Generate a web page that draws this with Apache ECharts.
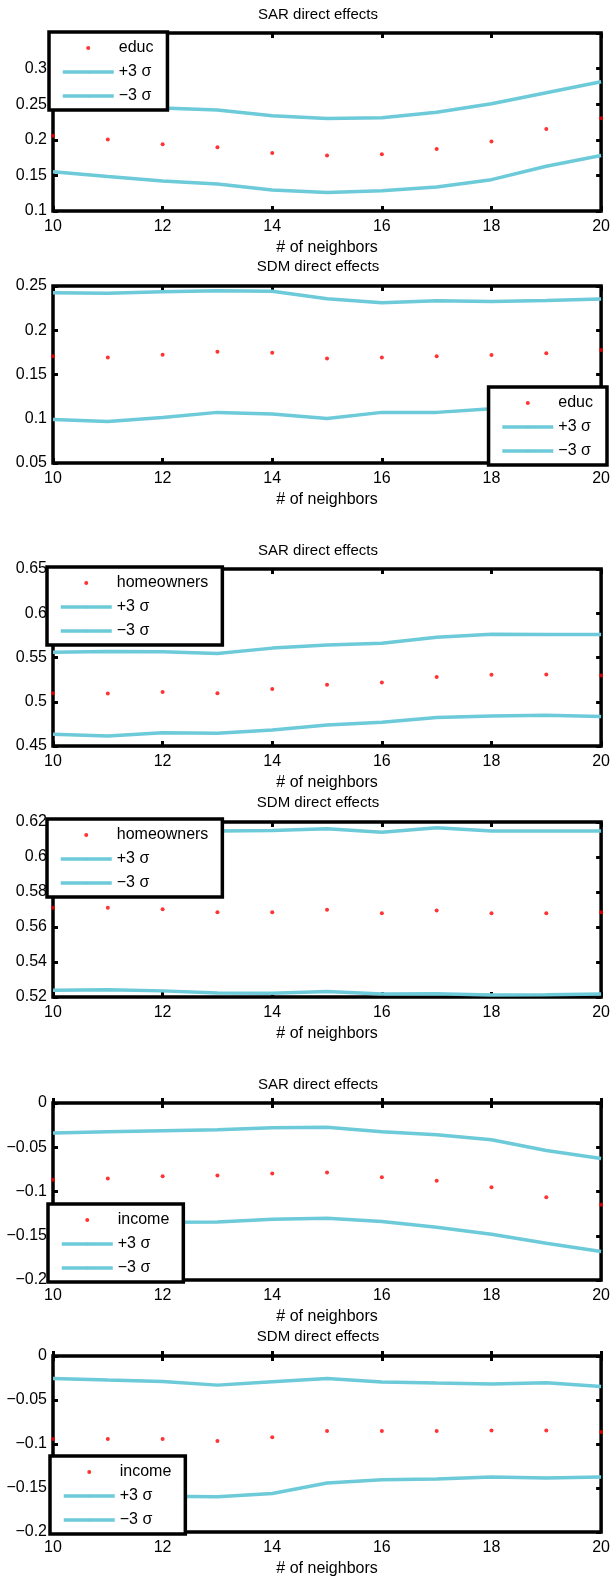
<!DOCTYPE html>
<html>
<head>
<meta charset="utf-8">
<script src="https://cdn.jsdelivr.net/npm/echarts@6/dist/echarts.min.js"></script>
<style>
  html, body { margin: 0; padding: 0; background: #fff; }
  #main { width: 613px; height: 1579px; }
</style>
</head>
<body>
<div id="main"></div>
<script>
var neighbors = [10, 11, 12, 13, 14, 15, 16, 17, 18, 19, 20];

// educ
var educSarUp = [0.256, 0.2527, 0.2445, 0.242, 0.2338, 0.230, 0.2309, 0.2386, 0.2507, 0.266, 0.2816];
var educSarMid = [0.2058, 0.2005, 0.1937, 0.1894, 0.1816, 0.178, 0.1797, 0.187, 0.1976, 0.215, 0.2304];
var educSarLo = [0.155, 0.1483, 0.142, 0.138, 0.1295, 0.126, 0.1285, 0.1338, 0.144, 0.1628, 0.178];

var educSdmUp = [0.2424, 0.2417, 0.2436, 0.2447, 0.244, 0.2356, 0.2311, 0.2333, 0.2326, 0.2337, 0.2352];
var educSdmMid = [0.1705, 0.1693, 0.1724, 0.1758, 0.1746, 0.1682, 0.1693, 0.1705, 0.172, 0.1739, 0.1777];
var educSdmLo = [0.0992, 0.097, 0.1015, 0.1072, 0.1053, 0.1004, 0.1072, 0.1072, 0.1114, 0.1141, 0.1202];

// homeowners
var homeSarUp = [0.556, 0.5568, 0.5564, 0.5545, 0.5606, 0.564, 0.5662, 0.573, 0.5764, 0.576, 0.576];
var homeSarMid = [0.5096, 0.5093, 0.5111, 0.5096, 0.5145, 0.5191, 0.5217, 0.5281, 0.5304, 0.5308, 0.5296];
var homeSarLo = [0.4632, 0.4613, 0.4651, 0.4643, 0.4681, 0.4738, 0.4768, 0.4821, 0.484, 0.4847, 0.4832];

var homeSdmUp = [0.6182, 0.6178, 0.6169, 0.6148, 0.6152, 0.6161, 0.6142, 0.6167, 0.6148, 0.6148, 0.6148];
var homeSdmMid = [0.571, 0.571, 0.5702, 0.5685, 0.5685, 0.5698, 0.5679, 0.5694, 0.5679, 0.5679, 0.5685];
var homeSdmLo = [0.5238, 0.5242, 0.5235, 0.5223, 0.5221, 0.5231, 0.5217, 0.5219, 0.5212, 0.5213, 0.5217];

// income
var incSarUp = [-0.034, -0.0325, -0.0313, -0.0302, -0.0279, -0.0275, -0.0325, -0.0358, -0.0415, -0.0536, -0.0626];
var incSarMid = [-0.0868, -0.0853, -0.0827, -0.0819, -0.0796, -0.0785, -0.0838, -0.0879, -0.0951, -0.1064, -0.1151];
var incSarLo = [-0.1396, -0.1381, -0.1347, -0.1344, -0.1313, -0.1302, -0.134, -0.1404, -0.1483, -0.1585, -0.1679];

var incSdmUp = [-0.0255, -0.0274, -0.0289, -0.0331, -0.0293, -0.0255, -0.0296, -0.0308, -0.0319, -0.0304, -0.0346];
var incSdmMid = [-0.0942, -0.0942, -0.0942, -0.0965, -0.0923, -0.0851, -0.0851, -0.0851, -0.0847, -0.0847, -0.0863];
var incSdmLo = [-0.1629, -0.161, -0.1595, -0.16, -0.1562, -0.1444, -0.1406, -0.1398, -0.1376, -0.1387, -0.1376];

var titles = ['SAR direct effects', 'SDM direct effects', 'SAR direct effects',
  'SDM direct effects', 'SAR direct effects', 'SDM direct effects'];
var varNames = ['educ', 'educ', 'homeowners', 'homeowners', 'income', 'income'];
var upName = '+3 \u03c3';
var loName = '\u22123 \u03c3';

var panels = [
  { up: educSarUp, mid: educSarMid, lo: educSarLo, min: 0.1, max: 0.35, step: 0.05, hideMax: true,
    top: 33, height: 178, titleY: 15, legend: { left: 49, top: 32 } },
  { up: educSdmUp, mid: educSdmMid, lo: educSdmLo, min: 0.05, max: 0.25, step: 0.05,
    top: 286, height: 177, titleY: 267, legend: { right: 6, top: 387 } },
  { up: homeSarUp, mid: homeSarMid, lo: homeSarLo, min: 0.45, max: 0.65, step: 0.05,
    top: 569, height: 177, titleY: 551, legend: { left: 47, top: 567 } },
  { up: homeSdmUp, mid: homeSdmMid, lo: homeSdmLo, min: 0.52, max: 0.62, step: 0.02,
    top: 822, height: 175, titleY: 803, legend: { left: 47, top: 819 } },
  { up: incSarUp, mid: incSarMid, lo: incSarLo, min: -0.2, max: 0, step: 0.05,
    top: 1103, height: 177, titleY: 1085, legend: { left: 48, top: 1204 } },
  { up: incSdmUp, mid: incSdmMid, lo: incSdmLo, min: -0.2, max: 0, step: 0.05,
    top: 1356, height: 176, titleY: 1337, legend: { left: 50, top: 1456 } }
];

var font = 'Liberation Sans, Arial, sans-serif';
var cyan = '#6ccad9';

function pairs(ys) {
  return neighbors.map(function (x, i) { return [x, ys[i]]; });
}
function fmt(v) {
  return String(+v.toFixed(4)).replace('-', '\u2212');
}

var grid = [], xAxis = [], yAxis = [], series = [], legend = [], graphic = [];

panels.forEach(function (p, i) {
  grid.push({
    left: 53, right: 9, top: p.top, height: p.height,
    show: true, borderColor: '#000', borderWidth: 3.5, backgroundColor: '#fff'
  });
  var tick = { show: true, inside: true, length: 5, lineStyle: { color: '#000', width: 3 } };
  xAxis.push({
    type: 'value', gridIndex: i, min: 10, max: 20, interval: 2, position: 'bottom',
    name: '# of neighbors', nameLocation: 'middle', nameGap: 29,
    nameTextStyle: { fontFamily: font, fontSize: 16, color: '#000' },
    axisLine: { show: false }, axisTick: tick, splitLine: { show: false },
    axisLabel: { fontFamily: font, fontSize: 16, color: '#000', margin: 8 }
  });
  xAxis.push({
    type: 'value', gridIndex: i, min: 10, max: 20, interval: 2, position: 'top',
    axisLine: { show: false }, axisTick: tick, splitLine: { show: false },
    axisLabel: { show: false }
  });
  yAxis.push({
    type: 'value', gridIndex: i, min: p.min, max: p.max, interval: p.step, position: 'left',
    axisLine: { show: false }, axisTick: tick, splitLine: { show: false },
    axisLabel: { fontFamily: font, fontSize: 16, color: '#000', margin: 6,
      showMaxLabel: !p.hideMax, formatter: fmt }
  });
  yAxis.push({
    type: 'value', gridIndex: i, min: p.min, max: p.max, interval: p.step, position: 'right',
    axisLine: { show: false }, axisTick: tick, splitLine: { show: false },
    axisLabel: { show: false }
  });

  series.push({
    name: varNames[i], type: 'scatter', xAxisIndex: 2 * i, yAxisIndex: 2 * i,
    data: pairs(p.mid), symbolSize: 4, itemStyle: { color: '#ff0000' }, z: 3
  });
  series.push({
    name: upName, type: 'line', xAxisIndex: 2 * i, yAxisIndex: 2 * i,
    data: pairs(p.up), symbol: 'none', lineStyle: { color: cyan, width: 3.5 }, itemStyle: { color: cyan }
  });
  series.push({
    name: loName, type: 'line', xAxisIndex: 2 * i, yAxisIndex: 2 * i,
    data: pairs(p.lo), symbol: 'none', lineStyle: { color: cyan, width: 3.5 }, itemStyle: { color: cyan }
  });

  legend.push(Object.assign({
    orient: 'vertical', selectedMode: false,
    data: [varNames[i], upName, loName],
    itemWidth: 51, itemHeight: 4, itemGap: 8,
    padding: [8, 14, 6, 12],
    backgroundColor: '#fff', borderColor: '#000', borderWidth: 3.5, borderRadius: 0,
    lineStyle: { width: 3.5 },
    textStyle: { fontFamily: font, fontSize: 16, color: '#000' }
  }, p.legend));

  graphic.push({
    type: 'text', x: 318, y: p.titleY,
    style: { text: titles[i], fontFamily: font, fontSize: 15, fill: '#000',
      align: 'center', verticalAlign: 'middle' }
  });
});

var myChart = echarts.init(document.getElementById('main'));
var option = {
  animation: false,
  backgroundColor: '#fff',
  grid: grid,
  xAxis: xAxis,
  yAxis: yAxis,
  legend: legend,
  graphic: graphic,
  series: series
};
option && myChart.setOption(option);
</script>
</body>
</html>
